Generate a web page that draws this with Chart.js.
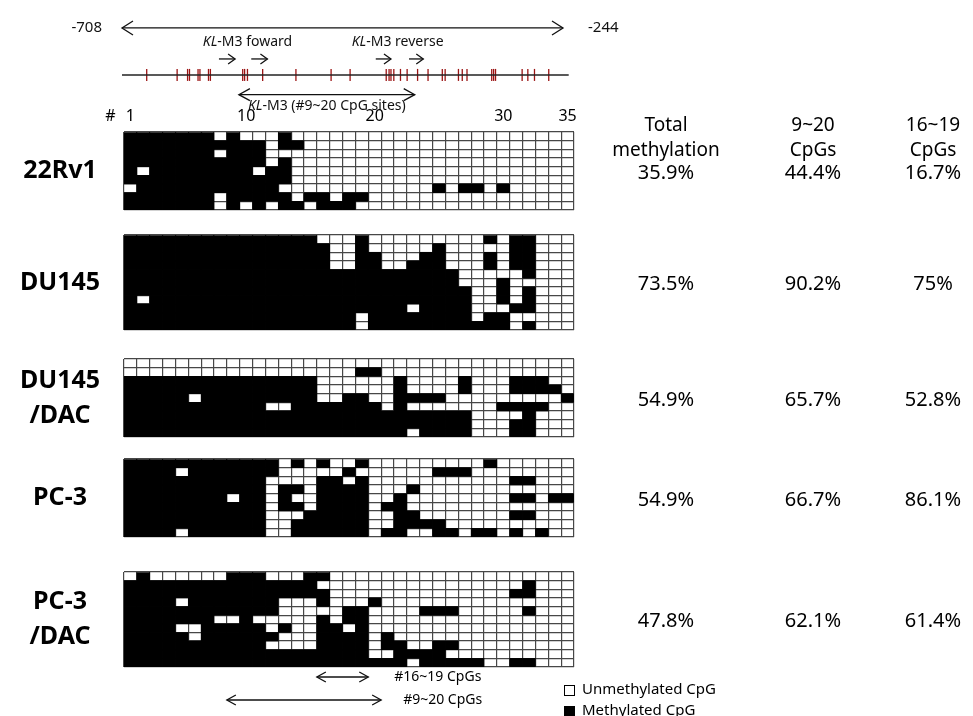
<!DOCTYPE html>
<html>
<head>
<meta charset="utf-8">
<title>KL-M3 CpG methylation</title>
<script src="https://cdn.jsdelivr.net/npm/chart.js@4.4.1/dist/chart.umd.min.js"></script>
<style>
  html, body { margin: 0; padding: 0; background: #fff; }
  #page { position: relative; width: 973px; height: 716px; overflow: hidden; background: #fff; }
  #page canvas { position: absolute; left: 0; top: 0; }
</style>
</head>
<body>
<div id="page">
  <canvas id="head" width="973" height="716"></canvas>
  <canvas id="g0" width="973" height="716"></canvas>
  <canvas id="g1" width="973" height="716"></canvas>
  <canvas id="g2" width="973" height="716"></canvas>
  <canvas id="g3" width="973" height="716"></canvas>
  <canvas id="g4" width="973" height="716"></canvas>
</div>
<script>
/* =============================================
   KL-M3 bisulfite sequencing — methylation grids
   ============================================= */

const FONT = '"Noto Sans", "Open Sans", sans-serif';

// ---------- data ----------
const SITES = ['1','2','3','4','5','6','7','8','9','10','11','12','13','14','15','16','17','18',
               '19','20','21','22','23','24','25','26','27','28','29','30','31','32','33','34','35'];
const TOP_TICKS = ['1', '10', '20', '30', '35'];

const SAMPLES    = ['22Rv1', 'DU145', 'DU145\n/DAC', 'PC-3', 'PC-3\n/DAC'];
const TOTAL_METH = ['35.9%', '73.5%', '54.9%', '54.9%', '47.8%'];
const CPG_9_20   = ['44.4%', '90.2%', '65.7%', '66.7%', '62.1%'];
const CPG_16_19  = ['16.7%', '75%', '52.8%', '86.1%', '61.4%'];
const COL_HEADS  = [['Total', 'methylation'], ['9~20', 'CpGs'], ['16~19', 'CpGs']];

// one string per clone, one char per CpG site (1 = methylated)
const CLONES_22RV1 = [
  '11111 11010 00100 00000 00000 00000 00000',
  '11111 11111 10110 00000 00000 00000 00000',
  '11111 11011 10000 00000 00000 00000 00000',
  '11111 11111 10100 00000 00000 00000 00000',
  '10111 11111 01100 00000 00000 00000 00000',
  '11111 11111 11100 00000 00000 00000 00000',
  '01111 11111 11000 00000 00001 01101 00000',
  '11111 11011 11101 10110 00000 00000 00000',
  '11111 11010 10110 11100 00000 00000 00000'
];
const CLONES_DU145 = [
  '11111 11111 11111 00010 00000 00010 11000',
  '11111 11111 11111 10010 00001 00000 11000',
  '11111 11111 11111 10011 00011 00010 11000',
  '11111 11111 11111 10011 00111 00010 11000',
  '11111 11111 11111 11111 11111 10000 01000',
  '11111 11111 11111 11111 11111 10001 00000',
  '11111 11111 11111 11111 11111 11001 01000',
  '10111 11111 11111 11111 11111 11001 01000',
  '11111 11111 11111 11111 11011 11000 11000',
  '11111 11111 11111 11101 11111 11011 00000',
  '11111 11111 11111 11101 11111 11111 01000'
];
const CLONES_DU145_DAC = [
  '00000 00000 00000 00000 00000 00000 00000',
  '00000 00000 00000 00011 00000 00000 00000',
  '11111 11111 11111 00000 01000 01000 11100',
  '11111 11111 11111 00000 01000 01000 11110',
  '11111 01111 11111 00110 01111 00000 00001',
  '11111 11111 10011 11111 01000 00001 11100',
  '11111 11111 11111 11111 11111 11000 01000',
  '11111 11111 11111 11111 11111 11000 11000',
  '11111 11111 11111 11111 11011 11000 11000'
];
const CLONES_PC3 = [
  '11111 11111 11010 10010 00000 00010 00000',
  '11110 11111 11000 00100 00001 11000 00000',
  '11111 11111 10000 11010 00000 00000 11000',
  '11111 11111 10110 11110 00100 00000 00000',
  '11111 11101 10100 11110 01000 00000 11011',
  '11111 11111 10110 11110 11000 00000 00000',
  '11111 11111 10001 11110 01100 00000 11000',
  '11111 11111 10011 11110 01111 00000 00000',
  '11110 11111 10011 11110 11001 10110 10100'
];
const CLONES_PC3_DAC = [
  '01000 00011 10001 10000 00000 00000 00000',
  '11111 11111 11111 00000 00000 00000 01000',
  '11111 11111 11111 10000 00000 00000 11000',
  '11110 11111 11000 10001 00000 00000 00000',
  '11111 11111 11000 00110 00011 10000 01000',
  '11111 11001 00000 10110 00000 00000 00000',
  '11110 01111 10100 11010 00000 00000 00000',
  '11111 01111 11000 11110 10000 00000 00000',
  '11111 11111 10000 11110 11001 10000 00000',
  '11111 11111 11111 11110 01111 00000 00000',
  '11111 11111 11111 11111 11011 11100 11000'
];
const CLONES = [CLONES_22RV1, CLONES_DU145, CLONES_DU145_DAC, CLONES_PC3, CLONES_PC3_DAC];

// promoter map (bp)
const REGION     = [-708, -244];
const LINE_SPAN  = [-708, -238];
const CPG_POS    = [-682, -650, -639, -637, -628, -626, -617, -615, -581, -579, -576, -560, -525,
                    -488, -468, -430, -427, -425, -422, -415, -408, -397, -386, -371, -368, -354,
                    -350, -345, -319, -317, -315, -287, -281, -274, -259];
const PRIMERS    = [[-606, -589], [-572, -555], [-441, -425], [-406, -391]];
const PRIMER_LBL = [['KL', '-M3 foward', -576], ['KL', '-M3 reverse', -418]];
const AMPLICON   = [-585, -400];
const AMP_LBL    = ['KL', '-M3 (#9~20 CpG sites)'];

const SPANS  = [['#16~19 CpGs', 16, 19], ['#9~20 CpGs', 9, 20]];
const LEGEND = [['Unmethylated CpG', '#fff'], ['Methylated CpG', '#000']];

// ---------- layout ----------
const W = 973, H = 716;
const GRID_L = 124, GRID_R = 574;
const GRID_Y = [[132, 210], [235, 330], [359, 437], [459, 537], [572, 667]];
const COL_X = [666, 813, 933];
const LABEL_X = 60;
const LANE = { range: 22, plabel: 37, primer: 55, line: 72, amp: 93, alabel: 105 };

// ---------- helpers ----------
function head(ctx, x, y, dir, len, half) {
  ctx.beginPath();
  ctx.moveTo(x - dir * len, y - half);
  ctx.lineTo(x, y);
  ctx.lineTo(x - dir * len, y + half);
  ctx.stroke();
}
function arrow(ctx, x1, x2, y, both, len, half) {
  ctx.beginPath(); ctx.moveTo(x1, y); ctx.lineTo(x2, y); ctx.stroke();
  head(ctx, x2, y, Math.sign(x2 - x1), len, half);
  if (both) head(ctx, x1, y, Math.sign(x1 - x2), len, half);
}
// "KL" italic + rest normal, centred on cx
function italicLabel(ctx, it, rest, cx, y, size) {
  ctx.font = 'italic ' + size + 'px ' + FONT;
  const w1 = ctx.measureText(it).width;
  ctx.font = size + 'px ' + FONT;
  const w2 = ctx.measureText(rest).width;
  const x = cx - (w1 + w2) / 2;
  ctx.textAlign = 'left';
  ctx.font = 'italic ' + size + 'px ' + FONT;
  ctx.fillText(it, x, y);
  ctx.font = size + 'px ' + FONT;
  ctx.fillText(rest, x + w1, y);
}

// ---------- promoter map ----------
const headerPlugin = {
  id: 'headerMarks',
  afterDatasetsDraw(chart) {
    const { ctx, scales: { x, y } } = chart;
    ctx.save();
    ctx.strokeStyle = '#111';
    ctx.fillStyle = '#111';
    ctx.lineWidth = 1.3;
    ctx.textBaseline = 'middle';

    const x0 = x.getPixelForValue(REGION[0]), x1 = x.getPixelForValue(REGION[1]);
    arrow(ctx, x0, x1, y.getPixelForValue(LANE.range), true, 11, 7);
    ctx.font = '15px ' + FONT;
    ctx.textAlign = 'right';
    ctx.fillText(String(REGION[0]), x0 - 20, y.getPixelForValue(LANE.range));
    ctx.textAlign = 'left';
    ctx.fillText(String(REGION[1]), x1 + 25, y.getPixelForValue(LANE.range));

    PRIMER_LBL.forEach(p => italicLabel(ctx, p[0], p[1], x.getPixelForValue(p[2]), y.getPixelForValue(LANE.plabel), 14));
    PRIMERS.forEach(p => arrow(ctx, x.getPixelForValue(p[0]), x.getPixelForValue(p[1]), y.getPixelForValue(LANE.primer), false, 7, 5));

    arrow(ctx, x.getPixelForValue(AMPLICON[0]), x.getPixelForValue(AMPLICON[1]), y.getPixelForValue(LANE.amp), true, 11, 6);
    italicLabel(ctx, AMP_LBL[0], AMP_LBL[1], x.getPixelForValue((AMPLICON[0] + AMPLICON[1]) / 2),
                y.getPixelForValue(LANE.alabel), 14);
    ctx.restore();
  }
};

new Chart(document.getElementById('head'), {
  type: 'scatter',
  data: {
    datasets: [{
      type: 'line',
      data: LINE_SPAN.map(v => ({ x: v, y: LANE.line })),
      borderColor: '#222', borderWidth: 1.5, pointRadius: 0, clip: false
    }, {
      data: CPG_POS.map(v => ({ x: v, y: LANE.line })),
      pointStyle: 'line', pointRotation: 90, pointRadius: 6,
      pointBorderColor: '#9b1414', pointBorderWidth: 1.3, clip: false
    }]
  },
  options: {
    responsive: false, animation: false, events: [],
    layout: { padding: { left: 122, right: W - 563, top: 0, bottom: H - 120 } },
    plugins: { legend: { display: false }, tooltip: { enabled: false } },
    scales: {
      x: { type: 'linear', min: REGION[0], max: REGION[1], display: false },
      y: { type: 'linear', min: 0, max: 120, reverse: true, display: false }
    }
  },
  plugins: [headerPlugin]
});

// ---------- methylation grids ----------
function gridText(i) {
  return {
    id: 'gridText' + i,
    afterDraw(chart) {
      const { ctx, chartArea: a, scales: { x } } = chart;
      const cy = (a.top + a.bottom) / 2;
      ctx.save();
      ctx.fillStyle = '#000';
      ctx.textAlign = 'center';
      ctx.textBaseline = 'middle';

      ctx.font = 'bold 25px ' + FONT;
      const lines = SAMPLES[i].split('\n');
      lines.forEach((t, k) => ctx.fillText(t, LABEL_X, cy + (k - (lines.length - 1) / 2) * 35));

      ctx.font = '20px ' + FONT;
      [TOTAL_METH, CPG_9_20, CPG_16_19].forEach((arr, k) => ctx.fillText(arr[i], COL_X[k], cy + 2));

      if (i === 0) {
        ctx.font = '19px ' + FONT;
        COL_HEADS.forEach((h, k) => {
          ctx.fillText(h[0], COL_X[k], 126);
          ctx.fillText(h[1], COL_X[k], 151);
        });
        ctx.font = '16px ' + FONT;
        TOP_TICKS.forEach(t => ctx.fillText(t, x.getPixelForValue(SITES.indexOf(t)), a.top - 16));
        ctx.fillText('#', x.getPixelForValue(0) - 20, a.top - 16);
      }

      if (i === CLONES.length - 1) {
        ctx.strokeStyle = '#111';
        ctx.lineWidth = 1.3;
        ctx.font = '14px ' + FONT;
        ctx.textAlign = 'left';
        SPANS.forEach((s, k) => {
          const yy = a.bottom + 10 + k * 23;
          const l = x.getPixelForValue(s[1] - 1.5), r = x.getPixelForValue(s[2] - 0.5);
          arrow(ctx, l, r, yy, true, 9, 5);
          ctx.fillText(s[0], r + 26 - k * 4, yy);
        });
        ctx.font = '15px ' + FONT;
        LEGEND.forEach((g, k) => {
          const yy = a.bottom + 23 + k * 21;
          ctx.fillStyle = g[1];
          ctx.fillRect(564, yy - 5, 11, 11);
          ctx.strokeStyle = '#000';
          ctx.lineWidth = 1;
          ctx.strokeRect(564.5, yy - 4.5, 10, 10);
          ctx.fillStyle = '#000';
          ctx.fillText(g[0], 582, yy);
        });
      }
      ctx.restore();
    }
  };
}

CLONES.forEach((rows, i) => {
  const [top, bottom] = GRID_Y[i];
  new Chart(document.getElementById('g' + i), {
    type: 'bar',
    data: {
      labels: SITES,
      datasets: rows.map((r, k) => {
        const cells = r.replace(/ /g, '').split('');
        return {
          label: 'clone ' + (k + 1),
          data: cells.map(() => 1),
          backgroundColor: cells.map(c => c === '1' ? '#000' : 'rgba(0,0,0,0)'),
          borderWidth: 0,
          barPercentage: 1,
          categoryPercentage: 1
        };
      })
    },
    options: {
      responsive: false, animation: false, events: [],
      layout: { padding: { left: GRID_L, right: W - GRID_R, top: top, bottom: H - bottom } },
      plugins: { legend: { display: false }, tooltip: { enabled: false } },
      scales: {
        x: {
          stacked: true, offset: true,
          grid: { offset: true, color: '#474747', lineWidth: 1.2, drawTicks: false },
          border: { display: false },
          ticks: { display: false }
        },
        y: {
          stacked: true, reverse: true, min: 0, max: rows.length,
          grid: { color: '#474747', lineWidth: 1.2, drawTicks: false },
          border: { display: false },
          ticks: { display: false, stepSize: 1 }
        }
      }
    },
    plugins: [gridText(i)]
  });
});
</script>
</body>
</html>
